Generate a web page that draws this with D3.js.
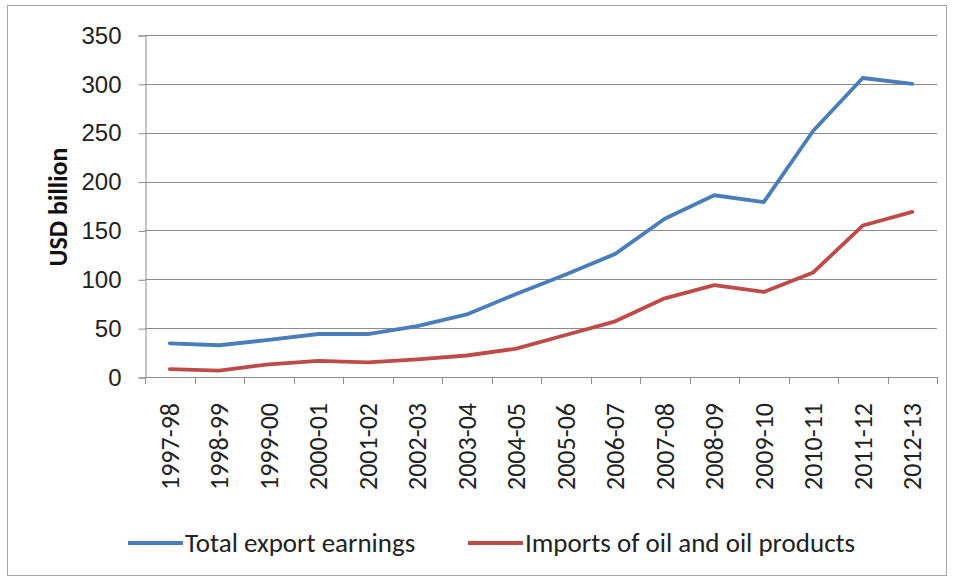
<!DOCTYPE html>
<html>
<head>
<meta charset="utf-8">
<script src="https://cdn.jsdelivr.net/npm/d3@7"></script>
<style>
  html, body { margin: 0; padding: 0; background: #fff; }
  svg { display: block; font-family: Carlito, Calibri, Lato, sans-serif; }
</style>
</head>
<body>
<svg id="chart" width="954" height="580"></svg>
<script>
// Fiscal years on the category axis
const years = ["1997-98","1998-99","1999-00","2000-01","2001-02","2002-03","2003-04","2004-05",
               "2005-06","2006-07","2007-08","2008-09","2009-10","2010-11","2011-12","2012-13"];
// USD billion
const exportEarnings = [34.5, 32.5, 38, 44, 44, 52, 64, 85, 105, 126, 162, 186, 179, 252, 306, 300];
const oilImports     = [8, 6.5, 13, 16.5, 15, 18, 22, 29, 43, 57, 80.5, 94, 87, 107, 155, 169];
const yTicks = [0, 50, 100, 150, 200, 250, 300, 350];

const series = [
  { name: "Total export earnings", values: exportEarnings, color: "#4A7EBB" },
  { name: "Imports of oil and oil products", values: oilImports, color: "#BE4B48" }
];

const svg = d3.select("#chart");
const plot = { left: 145, right: 937, top: 35, bottom: 377 };

// outer frame
svg.append("rect")
  .attr("x", 7.5).attr("y", 5.5).attr("width", 939).attr("height", 570)
  .attr("fill", "none").attr("stroke", "#a6a6a6").attr("stroke-width", 1);

const x = d3.scaleBand().domain(years).range([plot.left, plot.right]);
const y = d3.scaleLinear().domain([0, 350]).range([plot.bottom, plot.top]);

// horizontal gridlines
svg.append("g").selectAll("line").data(yTicks.filter(d => d > 0)).join("line")
  .attr("x1", plot.left).attr("x2", plot.right)
  .attr("y1", d => Math.round(y(d)) + 0.5).attr("y2", d => Math.round(y(d)) + 0.5)
  .attr("stroke", "#8c8c8c").attr("stroke-width", 1);

// y axis
const yAxis = svg.append("g")
  .attr("transform", `translate(${plot.left + 0.5},0.5)`)
  .call(d3.axisLeft(y).tickValues(yTicks).tickSize(7).tickPadding(17).tickFormat(d3.format("d")));
yAxis.select(".domain").attr("stroke", "#8c8c8c");
yAxis.selectAll(".tick line").attr("stroke", "#8c8c8c");
yAxis.selectAll(".tick text").attr("font-size", 24).attr("fill", "#222").attr("font-family", "inherit");

// x axis: ticks at category boundaries
const boundaries = d3.range(years.length + 1).map(i => plot.left + i * x.step());
const xAxisG = svg.append("g");
xAxisG.append("line")
  .attr("x1", plot.left).attr("x2", plot.right)
  .attr("y1", plot.bottom + 0.5).attr("y2", plot.bottom + 0.5)
  .attr("stroke", "#8c8c8c");
xAxisG.selectAll("line.tk").data(boundaries).join("line").attr("class", "tk")
  .attr("x1", d => Math.round(d) + 0.5).attr("x2", d => Math.round(d) + 0.5)
  .attr("y1", plot.bottom).attr("y2", plot.bottom + 7)
  .attr("stroke", "#8c8c8c");
xAxisG.selectAll("text").data(years).join("text")
  .attr("transform", d => `translate(${x(d) + x.bandwidth() / 2 + 9},${plot.bottom + 26}) rotate(-90)`)
  .attr("text-anchor", "end")
  .attr("font-size", 26).attr("fill", "#222")
  .text(d => d);

// y axis title
svg.append("text")
  .attr("transform", `translate(67,${(plot.top + plot.bottom) / 2 + 1}) rotate(-90)`)
  .attr("text-anchor", "middle")
  .attr("font-size", 26).attr("font-weight", "bold").attr("fill", "#111")
  .text("USD billion");

// series lines
const line = d3.line()
  .x((d, i) => x(years[i]) + x.bandwidth() / 2)
  .y(d => y(d));
svg.append("g").selectAll("path").data(series).join("path")
  .attr("d", s => line(s.values))
  .attr("fill", "none")
  .attr("stroke", s => s.color)
  .attr("stroke-width", 3.8)
  .attr("stroke-linejoin", "round")
  .attr("stroke-linecap", "round");

// legend
const legendX = [128, 468];
const legend = svg.append("g").selectAll("g").data(series).join("g")
  .attr("transform", (s, i) => `translate(${legendX[i]},543)`);
legend.append("line")
  .attr("x1", 0).attr("x2", 55).attr("y1", 0).attr("y2", 0)
  .attr("stroke", s => s.color).attr("stroke-width", 3.8);
legend.append("text")
  .attr("x", 57).attr("y", 9)
  .attr("font-size", 27).attr("fill", "#222")
  .text(s => s.name);
</script>
</body>
</html>
